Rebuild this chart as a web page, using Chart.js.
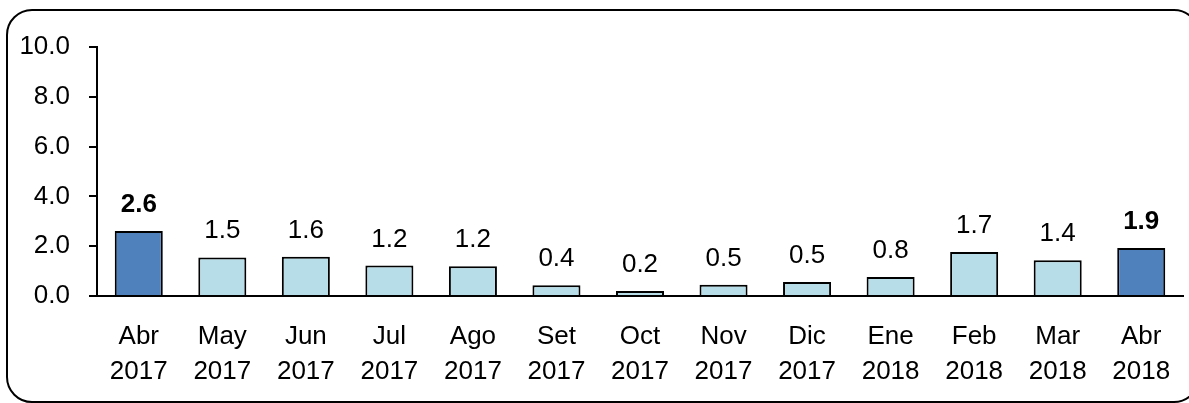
<!DOCTYPE html>
<html>
<head>
<meta charset="utf-8">
<script src="https://cdn.jsdelivr.net/npm/chart.js@4.4.1/dist/chart.umd.min.js"></script>
<style>
  html, body { margin: 0; padding: 0; background: #ffffff; overflow: hidden; }
  #wrap { position: relative; width: 1189px; height: 403px; overflow: hidden; }
  #frame { position: absolute; left: 6px; top: 9px; width: 1190px; height: 390px;
           border: 2px solid #000; border-radius: 26px; box-sizing: content-box; }
  #c { position: absolute; left: 0; top: 0; }
</style>
</head>
<body>
<div id="wrap">
  <div id="frame"></div>
  <canvas id="c" width="1189" height="403"></canvas>
</div>
<script>
const months = ['Abr', 'May', 'Jun', 'Jul', 'Ago', 'Set', 'Oct', 'Nov', 'Dic', 'Ene', 'Feb', 'Mar', 'Abr'];
const years = ['2017', '2017', '2017', '2017', '2017', '2017', '2017', '2017', '2017', '2018', '2018', '2018', '2018'];
const values = [2.61, 1.55, 1.58, 1.22, 1.19, 0.43, 0.20, 0.45, 0.56, 0.76, 1.77, 1.44, 1.93];
const valueLabels = ['2.6', '1.5', '1.6', '1.2', '1.2', '0.4', '0.2', '0.5', '0.5', '0.8', '1.7', '1.4', '1.9'];
const highlighted = [true, false, false, false, false, false, false, false, false, false, false, false, true];
const yTicks = [0, 2, 4, 6, 8, 10];

const FONT = "'Liberation Sans', Arial, sans-serif";
const DARK = '#4F81BD';
const LIGHT = '#B7DEE8';

const labelPlugin = {
  id: 'valueLabels',
  afterDatasetsDraw(chart) {
    const ctx = chart.ctx;
    const meta = chart.getDatasetMeta(0);
    ctx.save();
    ctx.fillStyle = '#000';
    ctx.textAlign = 'center';
    ctx.textBaseline = 'alphabetic';
    meta.data.forEach((bar, i) => {
      ctx.font = (highlighted[i] ? 'bold ' : '') + '26px ' + FONT;
      ctx.fillText(valueLabels[i], bar.x, bar.y - 19);
    });
    ctx.restore();
  }
};

new Chart(document.getElementById('c'), {
  type: 'bar',
  data: {
    labels: months.map((m, i) => [m, years[i]]),
    datasets: [{
      data: values,
      backgroundColor: highlighted.map(h => h ? DARK : LIGHT),
      borderColor: '#000',
      borderWidth: 2,
      borderSkipped: 'start',
      categoryPercentage: 1.0,
      barPercentage: 0.575
    }]
  },
  options: {
    responsive: false,
    animation: false,
    events: [],
    layout: { padding: { top: 47, right: 6, left: 0, bottom: 0 } },
    plugins: { legend: { display: false }, tooltip: { enabled: false } },
    scales: {
      x: {
        offset: true,
        grid: { display: true, drawOnChartArea: false, drawTicks: false, color: 'rgba(0,0,0,0)' },
        border: { display: true, color: '#000', width: 2 },
        ticks: {
          color: '#000',
          font: { family: FONT, size: 26, lineHeight: 1.35 },
          padding: 23,
          maxRotation: 0,
          autoSkip: false
        },
        afterFit(scale) { scale.height = 107; scale.paddingLeft = 0; scale.paddingRight = 0; }
      },
      y: {
        min: 0,
        max: 10,
        afterBuildTicks(scale) { scale.ticks = yTicks.map(v => ({ value: v })); },
        grid: { display: true, drawOnChartArea: false, drawTicks: true, tickLength: 8, color: '#000', lineWidth: 2 },
        border: { display: true, color: '#000', width: 2 },
        ticks: {
          color: '#000',
          font: { family: FONT, size: 26 },
          padding: 19,
          callback: v => Number(v).toFixed(1)
        },
        afterFit(scale) { scale.width = 97; }
      }
    }
  },
  plugins: [labelPlugin]
});
</script>
</body>
</html>
